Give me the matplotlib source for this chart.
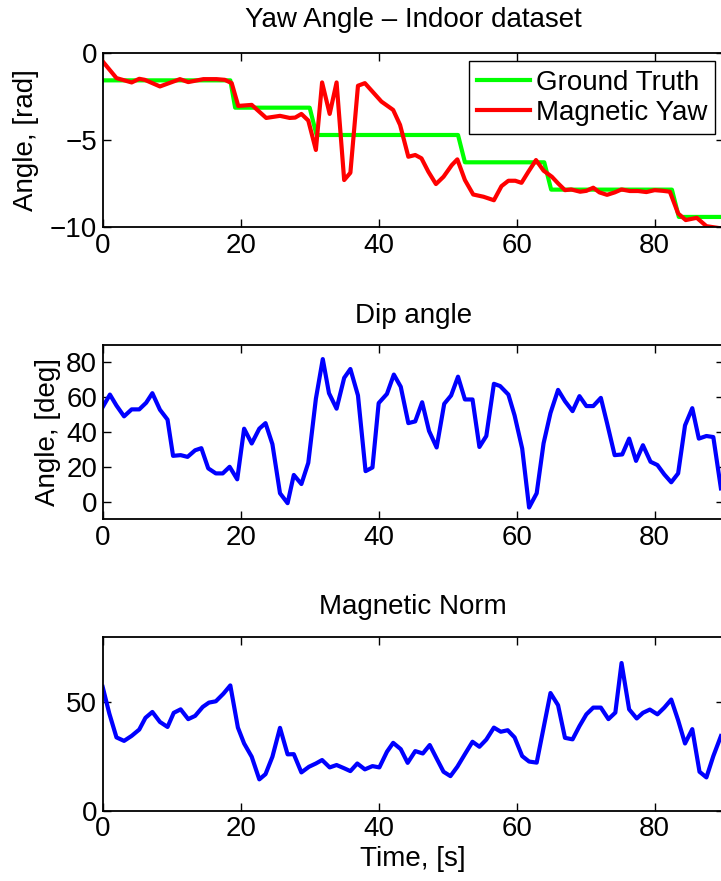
import matplotlib.pyplot as plt

plt.rcParams['font.family'] = ['Liberation Sans', 'DejaVu Sans']
plt.rcParams['font.size'] = 20

# Ground truth yaw (steps of -pi/2), time in s, angle in rad
gt_time = [0, 18.5, 19.2, 30, 31, 51.5, 52.5, 64, 65, 82.5, 83.5, 90]
gt_yaw = [-1.57, -1.57, -3.14, -3.14, -4.71, -4.71, -6.28, -6.28,
          -7.85, -7.85, -9.42, -9.42]

# Magnetic yaw
mag_time = [0, 2.0, 4.2, 5.3, 6.1, 8.3, 11.2, 12.4, 14.6, 16.5, 17.7, 18.7,
            19.65, 21.6, 23.7, 25.7, 27.1, 27.9, 28.8, 29.8, 30.9, 31.8, 32.9,
            33.9, 35.0, 35.9, 37.0, 38.0, 40.4, 42.1, 43.1, 44.3, 45.3, 46.2,
            47.2, 48.3, 49.4, 50.6, 51.4, 52.5, 53.7, 55.2, 56.7, 57.8, 58.8,
            59.8, 60.7, 61.7, 62.8, 63.9, 65.1, 66.0, 67.0, 67.9, 69.2, 70.1,
            71.1, 72.0, 73.1, 74.2, 75.2, 76.4, 77.6, 78.8, 80.0, 81.2, 82.2,
            83.4, 84.5, 86.1, 87.5, 90]
mag_yaw = [-0.48, -1.44, -1.69, -1.48, -1.54, -1.92, -1.5, -1.67, -1.5, -1.5,
           -1.54, -1.73, -3.04, -2.98, -3.73, -3.61, -3.73, -3.71, -3.5, -3.88,
           -5.57, -1.69, -3.5, -1.69, -7.3, -6.88, -1.88, -1.73, -2.79, -3.27,
           -4.13, -5.96, -5.86, -6.05, -6.82, -7.53, -7.11, -6.44, -6.11, -7.3,
           -8.13, -8.26, -8.46, -7.65, -7.34, -7.34, -7.46, -6.82, -6.15,
           -6.76, -7.11, -7.49, -7.88, -7.84, -7.97, -7.92, -7.74, -8.01,
           -8.15, -8.01, -7.84, -7.93, -7.93, -7.99, -7.88, -7.92, -7.97,
           -9.22, -9.6, -9.47, -9.95, -10.1]

# Dip angle, deg
dip_time = [0, 1.05, 2.0, 3.1, 4.2, 5.3, 6.3, 7.2, 8.3, 9.4, 10.2, 11.3, 12.3,
            13.4, 14.3, 15.3, 16.4, 17.4, 18.4, 19.5, 20.5, 21.6, 22.7, 23.6,
            24.6, 25.7, 26.8, 27.7, 28.8, 29.8, 30.9, 31.9, 32.8, 33.9, 35.0,
            35.9, 37.0, 38.1, 39.1, 40.0, 41.2, 42.2, 43.2, 44.3, 45.3, 46.3,
            47.3, 48.4, 49.5, 50.5, 51.5, 52.5, 53.6, 54.6, 55.6, 56.7, 57.6,
            58.8, 59.7, 60.8, 61.8, 62.9, 63.9, 64.9, 66.0, 67.0, 68.1, 69.1,
            70.1, 71.1, 72.2, 73.1, 74.2, 75.3, 76.3, 77.3, 78.3, 79.4, 80.4,
            81.4, 82.4, 83.4, 84.4, 85.45, 86.4, 87.5, 88.5, 89.6]
dip = [54.3, 61.5, 55.2, 49.0, 53, 53, 56.8, 62.3, 52.8, 47.1, 26.3, 26.7,
       25.7, 29.5, 30.7, 19.1, 16.2, 16.2, 20, 12.8, 41.9, 33.4, 41.9, 45.1,
       33, 4.8, -0.9, 15.3, 10.1, 22.3, 59.1, 81.9, 62.3, 53.4, 71.1, 76.2,
       61, 17.5, 19.6, 56.6, 61.9, 73, 66, 45.1, 46.1, 57.1, 40.6, 31.1, 56.2,
       61, 71.8, 58.7, 58.7, 31.4, 37.7, 67.7, 66.4, 61.5, 49.5, 30.5, -3.4,
       4.8, 33.5, 50.9, 64.2, 57.7, 52, 60.6, 54.9, 54.9, 59.6, 45.1, 26.7,
       27.1, 36.2, 23.4, 32.4, 22.9, 21, 15.6, 11.1, 16.2, 43.8, 53.7, 36.2,
       37.7, 37.1, 7.6]

# Magnetic field norm
norm_time = [0, 0.96, 2.0, 3.1, 4.2, 5.3, 6.2, 7.2, 8.3, 9.4, 10.3, 11.3,
             12.4, 13.4, 14.5, 15.4, 16.4, 17.5, 18.5, 19.6, 20.5, 21.6, 22.7,
             23.6, 24.6, 25.7, 26.8, 27.7, 28.8, 29.9, 30.9, 31.8, 32.9, 33.9,
             35.0, 35.9, 36.9, 38.0, 39.1, 40.1, 41.2, 42.1, 43.2, 44.2, 45.3,
             46.4, 47.4, 48.4, 49.4, 50.4, 51.4, 52.5, 53.6, 54.6, 55.6, 56.7,
             57.7, 58.7, 59.7, 60.8, 61.8, 62.9, 63.9, 64.9, 66.0, 67.0, 68.1,
             69.1, 70.1, 71.1, 72.2, 73.3, 74.3, 75.2, 76.3, 77.4, 78.3, 79.3,
             80.4, 81.4, 82.4, 83.4, 84.4, 85.45, 86.5, 87.5, 88.5, 89.6]
norm = [56.9, 44.7, 33.7, 32.1, 34.4, 37.3, 42.7, 45.4, 40.8, 38.5, 45, 46.6,
        42.1, 43.6, 47.7, 49.7, 50.3, 53.8, 57.6, 38.2, 30.9, 24.8, 14.4, 16.8,
        24.8, 38.1, 25.9, 26, 17.6, 20.2, 21.7, 23.3, 19.9, 21, 19.5, 18.2,
        21.7, 19, 20.5, 19.9, 27.1, 31.2, 28.3, 22, 27.4, 26.3, 30.2, 24, 17.9,
        15.9, 20.2, 26, 31.7, 29.4, 32.7, 38.2, 36.3, 37, 33.7, 25.1, 22.6,
        22.1, 38.1, 54.1, 48.5, 33.5, 32.8, 38.9, 44.3, 47.4, 47.4, 42.1, 45.1,
        67.9, 46.6, 42.4, 45, 46.5, 44.3, 47.4, 51.1, 41.6, 30.9, 37.5, 17.9,
        15.3, 25.1, 34.3]

fig = plt.figure(figsize=(7.21, 8.81), dpi=100)

# axes run a bit past the right edge, like the cropped original
left, width, height = 0.1424, 0.8613, 0.1975
ax1 = fig.add_axes([left, 0.7423, width, height])
ax2 = fig.add_axes([left, 0.4109, width, height])
ax3 = fig.add_axes([left, 0.0798, width, height])


def style(ax):
    ax.set_xlim(0, 90)
    ax.set_xticks([0, 20, 40, 60, 80])
    ax.tick_params(direction='in', top=True, right=True, length=6, width=1,
                   labelsize=20, pad=4)
    for s in ax.spines.values():
        s.set_linewidth(1.3)


ax1.plot(gt_time, gt_yaw, color=(0, 1, 0), lw=3, label='Ground Truth')
ax1.plot(mag_time, mag_yaw, color=(1, 0, 0), lw=3, label='Magnetic Yaw')
ax1.set_ylim(-10, 0)
ax1.set_yticks([-10, -5, 0])
ax1.set_ylabel('Angle, [rad]', labelpad=8)
ax1.set_title('Yaw Angle \u2013 Indoor dataset', fontsize=20, pad=19)
style(ax1)
leg = ax1.legend(loc='upper right', fontsize=20, fancybox=False, framealpha=1,
                 edgecolor='black', borderaxespad=0.3, borderpad=0.3,
                 handlelength=1.9, handletextpad=0.2, labelspacing=0.15)
leg.get_frame().set_linewidth(1.0)

ax2.plot(dip_time, dip, color=(0, 0, 1), lw=3)
ax2.set_ylim(-10, 90)
ax2.set_yticks([0, 20, 40, 60, 80])
ax2.set_ylabel('Angle, [deg]')
ax2.set_title('Dip angle', fontsize=20, pad=16)
style(ax2)

ax3.plot(norm_time, norm, color=(0, 0, 1), lw=3)
ax3.set_ylim(0, 80)
ax3.set_yticks([0, 50])
ax3.set_xlabel('Time, [s]', labelpad=3)
ax3.set_title('Magnetic Norm', fontsize=20, pad=16)
style(ax3)

plt.savefig('out.png', dpi=100)
